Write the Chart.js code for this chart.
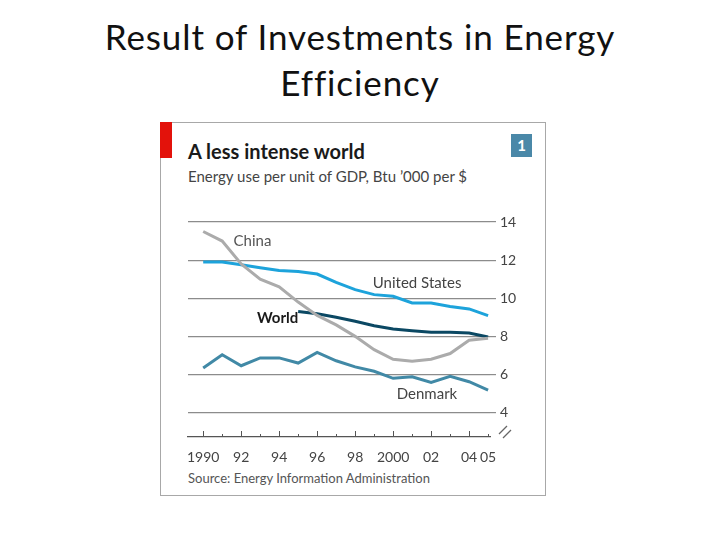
<!DOCTYPE html>
<html lang="en">
<head>
  <meta charset="UTF-8">
  <title>Result of Investments in Energy Efficiency</title>
  <script src="https://cdn.jsdelivr.net/npm/chart.js@4.4.1/dist/chart.umd.min.js"></script>
  <style>
    body { margin: 0; background: #fff; font-family: Lato, sans-serif; }
    #page { position: relative; width: 720px; height: 540px; overflow: hidden; }
    #slide-title { position: absolute; left: 0; top: 13px; width: 720px; text-align: center;
      font-size: 35px; letter-spacing: 0.9px; line-height: 46px; color: #111; }
    #frame { position: absolute; left: 160px; top: 122px; width: 384px; height: 372px;
      border: 1px solid #a8a8a8; }
    #redbar { position: absolute; left: 160px; top: 122px; width: 12px; height: 36px; background: #e3120b; }
    #badge { position: absolute; left: 511px; top: 134px; width: 21px; height: 23px; background: #4a88a8;
      color: #fff; font-weight: bold; font-size: 15px; line-height: 23px; text-align: center; }
    #ch-title { position: absolute; left: 188px; top: 139px; font-size: 20px; font-weight: bold; color: #1a1a1a; }
    #ch-sub { position: absolute; left: 188px; top: 167px; font-size: 15px; color: #444; }
    #source { position: absolute; left: 188px; top: 470px; font-size: 13px; color: #555; }
    canvas { position: absolute; left: 0; top: 0; }
  </style>
</head>
<body>
<div id="page">
  <div id="slide-title">Result of Investments in Energy<br>Efficiency</div>
  <div id="frame"></div>
  <div id="redbar"></div>
  <div id="badge">1</div>
  <div id="ch-title">A less intense world</div>
  <div id="ch-sub">Energy use per unit of GDP, Btu ’000 per $</div>
  <div id="source">Source: Energy Information Administration</div>
  <canvas id="chart" width="720" height="540"></canvas>
</div>
<script>
  const years = [1990, 1991, 1992, 1993, 1994, 1995, 1996, 1997, 1998, 1999, 2000, 2001, 2002, 2003, 2004, 2005];
  const xTickLabels = ['1990', '', '92', '', '94', '', '96', '', '98', '', '2000', '', '02', '', '04', '05'];
  const yTicks = [4, 6, 8, 10, 12, 14];

  const china = [13.5, 13.0, 11.8, 11.0, 10.6, 9.8, 9.1, 8.6, 8.0, 7.3, 6.8, 6.7, 6.8, 7.1, 7.8, 7.9];
  const unitedStates = [11.9, 11.9, 11.76, 11.6, 11.45, 11.4, 11.27, 10.83, 10.45, 10.19, 10.1, 9.75, 9.75, 9.57, 9.44, 9.09];
  const world = [null, null, null, null, null, 9.31, 9.19, 9.0, 8.79, 8.56, 8.39, 8.3, 8.21, 8.21, 8.18, 7.97];
  const denmark = [6.34, 7.04, 6.46, 6.87, 6.87, 6.6, 7.16, 6.72, 6.4, 6.17, 5.8, 5.88, 5.58, 5.9, 5.62, 5.18];

  const toPoints = vals => years.map((y, i) => ({ x: y, y: vals[i] }));

  // series name labels, placed in data units
  const seriesLabels = [
    { text: 'China', x: 1991.6, y: 12.97, color: '#555', bold: false },
    { text: 'United States', x: 1998.93, y: 10.81, color: '#444', bold: false },
    { text: 'World', x: 1992.83, y: 8.97, color: '#1a1a1a', bold: true },
    { text: 'Denmark', x: 2000.19, y: 4.98, color: '#444', bold: false }
  ];

  const extras = {
    id: 'extras',
    afterDraw(chart) {
      const { ctx, scales: { x, y }, chartArea } = chart;
      ctx.save();
      // year ticks pointing up from the axis line
      ctx.strokeStyle = '#555';
      ctx.lineWidth = 1;
      years.forEach(yr => {
        const px = Math.round(x.getPixelForValue(yr)) + 0.5;
        const len = yr % 2 === 0 ? 6 : 3;
        ctx.beginPath();
        ctx.moveTo(px, chartArea.bottom);
        ctx.lineTo(px, chartArea.bottom - len);
        ctx.stroke();
      });
      // axis break mark
      ctx.strokeStyle = '#666';
      ctx.lineWidth = 1.2;
      const bx = chartArea.right + 15, by = chartArea.bottom - 5;
      [-2, 2].forEach(d => {
        ctx.beginPath();
        ctx.moveTo(bx - 4 + d, by + 4 + d);
        ctx.lineTo(bx + 4 + d, by - 4 + d);
        ctx.stroke();
      });
      // series labels
      ctx.textBaseline = 'middle';
      ctx.textAlign = 'left';
      seriesLabels.forEach(l => {
        ctx.font = (l.bold ? 'bold ' : '') + '15px Lato';
        ctx.fillStyle = l.color;
        ctx.fillText(l.text, x.getPixelForValue(l.x), y.getPixelForValue(l.y));
      });
      ctx.restore();
    }
  };

  const line = (label, vals, color) => ({
    label, data: toPoints(vals), borderColor: color, borderWidth: 3,
    pointRadius: 0, fill: false, tension: 0, spanGaps: false
  });

  new Chart(document.getElementById('chart'), {
    type: 'line',
    data: {
      datasets: [
        line('China', china, '#ababab'),
        line('United States', unitedStates, '#1da3db'),
        line('Denmark', denmark, '#4189a6'),
        line('World', world, '#0b4863')
      ]
    },
    options: {
      responsive: false,
      animation: false,
      clip: false,
      layout: { padding: { left: 188, right: 180, top: 222, bottom: 73 } },
      plugins: { legend: { display: false }, tooltip: { enabled: false } },
      scales: {
        x: {
          type: 'linear',
          min: 1989.2,
          max: 2005.1,
          afterBuildTicks: s => { s.ticks = years.map(v => ({ value: v })); },
          afterFit: s => { s.height = 30; },
          grid: { display: true, drawOnChartArea: false, drawTicks: false },
          border: { display: true, color: '#555', width: 1.2 },
          ticks: {
            autoSkip: false, maxRotation: 0, padding: 12,
            color: '#444', font: { family: 'Lato', size: 14 },
            callback: v => xTickLabels[years.indexOf(v)]
          }
        },
        y: {
          position: 'right',
          min: 2.72,
          max: 14,
          afterBuildTicks: s => { s.ticks = yTicks.map(v => ({ value: v })); },
          afterFit: s => { s.width = 50; },
          border: { display: false },
          grid: { color: '#8c8c8c', lineWidth: 1.2, tickLength: 6 },
          ticks: { padding: 4, color: '#444', font: { family: 'Lato', size: 14 } }
        }
      }
    },
    plugins: [extras]
  });
</script>
</body>
</html>
